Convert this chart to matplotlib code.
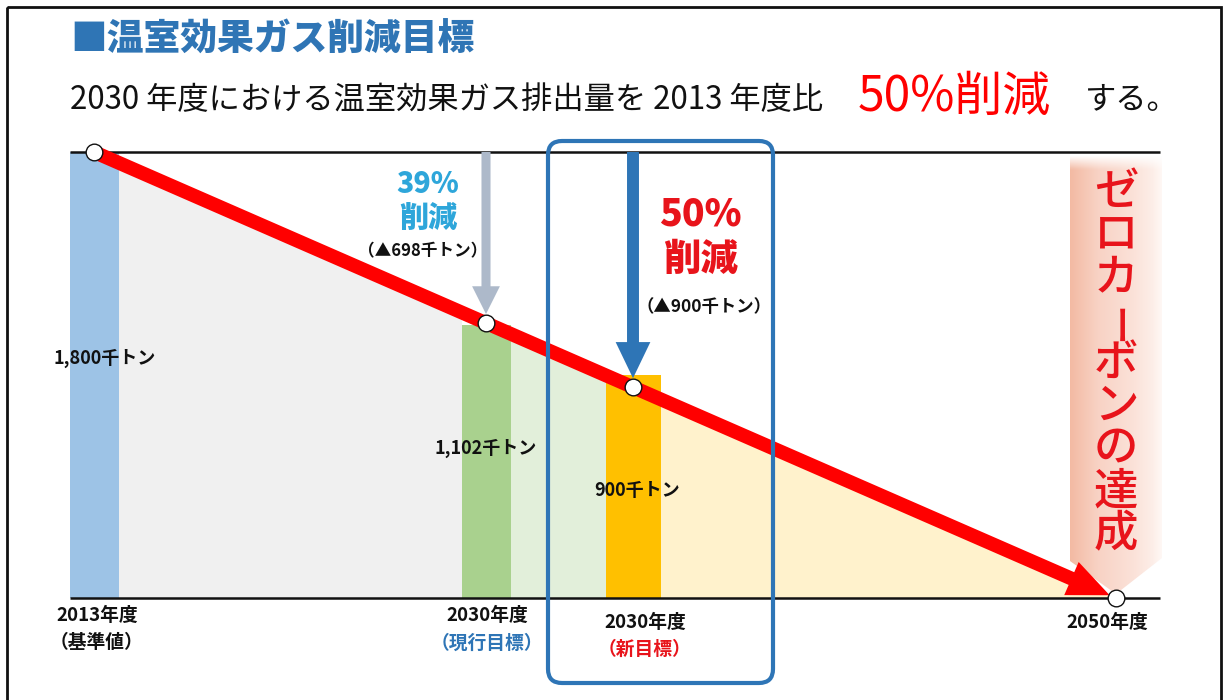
import numpy as np
import matplotlib
matplotlib.use("Agg")
import matplotlib.pyplot as plt
from matplotlib.transforms import Affine2D
from matplotlib.patches import Rectangle, FancyBboxPatch, Polygon, FancyArrowPatch, ArrowStyle

plt.rcParams['font.family'] = ['Noto Sans CJK JP', 'DejaVu Sans']

# ---------------- data ----------------
year_labels = ["2013年度", "2030年度", "2030年度", "2050年度"]
year_notes = ["（基準値）", "（現行目標）", "（新目標）", ""]
emissions = [1800, 1102, 900]          # 千トン
reduction_amounts = [698, 900]          # 千トン
reduction_pcts = [39, 50]               # %
title = "■温室効果ガス削減目標"
subtitle_a = "2030 年度における温室効果ガス排出量を 2013 年度比"
subtitle_b = "50%削減"
subtitle_c = "する。"
banner_text = "ゼロカーボンの達成"

# ---------------- layout ----------------
W, H = 1226, 700
x_pos = [94, 486, 633, 1116]
bar_widths = [49, 49, 55]
bar_colors = ["#9DC3E6", "#A9D18E", "#FFC000"]
fill_colors = ["#F0F0F0", "#E2EFDA", "#FFF2CC"]
Y_TOP_PX, Y_BOT_PX = 152, 598

fig = plt.figure(figsize=(W / 100, H / 100), dpi=100)
fig.patch.set_facecolor("white")
ax = fig.add_axes([0, (H - Y_BOT_PX) / H, 1, (Y_BOT_PX - Y_TOP_PX) / H])
ax.set_axis_off()
ax.patch.set_alpha(0)
pix = Affine2D().scale(1 / W, -1 / H).translate(0, 1) + fig.transFigure

ymax = emissions[0]
line_x = [x_pos[0], x_pos[-1]]
line_y = [emissions[0], 0]


def T(x, y, s, **kw):
    kw.setdefault("ha", "center")
    kw.setdefault("va", "center")
    return ax.text(x, y, s, transform=pix, clip_on=False, **kw)


# frame
ax.add_patch(Rectangle((7, 7), 1214, 800, transform=pix, fill=False, ec="#111111",
                       lw=2.0, clip_on=False, zorder=0))

# under-line fills between bars
edges_left = [x + w / 2 for x, w in zip(x_pos[:3], bar_widths)]
edges_right = [x - w / 2 for x, w in zip(x_pos[1:3], bar_widths[1:])] + [x_pos[-1]]
for xl, xr, c in zip(edges_left, edges_right, fill_colors):
    xs = np.array([xl, xr])
    ax.fill_between(xs, 0, np.interp(xs, line_x, line_y), color=c, lw=0, zorder=1)

# bars
ax.bar(x_pos[:3], emissions, width=bar_widths, color=bar_colors, zorder=2, lw=0)

# top / bottom lines
ax.plot([70, 1160], [ymax, ymax], color="#111111", lw=1.8, zorder=2.5, clip_on=False,
        solid_capstyle="butt")
ax.plot([70, 1160], [0, 0], color="#111111", lw=1.8, zorder=2.5, clip_on=False,
        solid_capstyle="butt")

# banner with gradient
bx0, bx1, by0, by1 = 1070, 1162, 155, 594
banner_poly = [(bx0, by0), (bx1, by0), (bx1, 558), (1116, by1), (bx0, 561)]
stops = np.array([0, 0.3, 0.7, 0.9, 1.0])
cols = np.array([[243, 186, 163], [248, 210, 196], [251, 226, 217], [253, 238, 232], [255, 248, 245]]) / 255
nx, ny = 200, 300
t = np.linspace(0, 1, nx)
rgb = np.stack([np.interp(t, stops, cols[:, k]) for k in range(3)], axis=-1)
yy = np.linspace(by0, by1, ny)
alpha = np.clip((yy - by0) / 14.0, 0, 1)
img = np.zeros((ny, nx, 4))
img[:, :, :3] = rgb[None, :, :]
img[:, :, 3] = alpha[:, None]
im = ax.imshow(img, extent=(bx0, bx1, by1, by0), transform=pix, aspect="auto",
               interpolation="bilinear", zorder=3, origin="upper")
clip = Polygon(banner_poly, closed=True, transform=pix)
im.set_clip_path(clip)
for i, ch in enumerate(banner_text):
    if ch == "ー":
        T(1124, 192 + i * 42.9, ch, fontsize=29, color="#E8141B", rotation=90,
          weight="medium", zorder=3.5)
    else:
        T(1116, 192 + i * 42.9, ch, fontsize=32, color="#E8141B", weight="medium", zorder=3.5)

# red arrow
ax.add_patch(FancyArrowPatch((x_pos[0], emissions[0]), (x_pos[-1], 0),
                             arrowstyle=ArrowStyle.Simple(head_length=30, head_width=26, tail_width=10),
                             mutation_scale=1, color="#FF0000", lw=0, shrinkA=0, shrinkB=5,
                             zorder=4, clip_on=False))

marker_y = np.interp(x_pos, line_x, line_y)

# reduction arrows
for xp, my, c, tw, hw, hl in [(x_pos[1], marker_y[1], "#ADB9CA", 6.5, 20, 20),
                              (x_pos[2], marker_y[2], "#2E75B6", 8.6, 25, 26)]:
    ax.add_patch(FancyArrowPatch((xp, ymax), (xp, my),
                                 arrowstyle=ArrowStyle.Simple(head_length=hl, head_width=hw, tail_width=tw),
                                 mutation_scale=1, color=c, lw=0, shrinkA=0, shrinkB=6.5,
                                 zorder=4.5, clip_on=False))

# blue box
ax.add_patch(FancyBboxPatch((548, 141), 225, 542, boxstyle="round,pad=0,rounding_size=14",
                            transform=pix, fc="none", ec="#2E75B6", lw=3.0, clip_on=False, zorder=5))

# markers
ax.plot(x_pos, marker_y, "o", ms=12, mfc="white", mec="#111111", mew=1.0, zorder=6, clip_on=False)

# titles
T(70, 40, title, ha="left", fontsize=26.5, weight="heavy", color="#2F75B5")
T(70, 100, subtitle_a, ha="left", fontsize=22.5, color="#111111")
T(858, 97, subtitle_b, ha="left", fontsize=34.5, color="#FF0000")
T(1085, 100, subtitle_c, ha="left", fontsize=22.5, color="#111111")

# reduction texts
T(428, 184, f"{reduction_pcts[0]}%", fontsize=20.5, weight="heavy", color="#2EA6DA")
T(428, 218, "削減", fontsize=21, weight="heavy", color="#2EA6DA")
T(423, 251, f"（▲{reduction_amounts[0]}千トン）", fontsize=12, weight="bold", color="#111111")
T(700, 214, f"{reduction_pcts[1]}%", fontsize=27, weight="heavy", color="#E8141B")
T(701, 260, "削減", fontsize=27, weight="heavy", color="#E8141B")
T(704, 307, f"（▲{reduction_amounts[1]}千トン）", fontsize=12.5, weight="bold", color="#111111")

# value labels
for (lx, ly), v in zip([(105, 358), (486, 448), (637, 490)], emissions):
    T(lx, ly, f"{v:,}千トン", fontsize=13, weight="bold", color="#111111", zorder=7)

# year labels
label_pos = [(97, 615, 643), (487, 615, 643), (645, 622, 649), (1107, 622, None)]
note_colors = ["#111111", "#2E75B6", "#E8141B", "#111111"]
for (lx, y1, y2), yl, nt, nc in zip(label_pos, year_labels, year_notes, note_colors):
    T(lx, y1, yl, fontsize=13.5, weight="bold", color="#111111")
    if nt:
        T(lx, y2, nt, fontsize=13.5, weight="bold", color=nc)

ax.set_xlim(0, W)
ax.set_ylim(0, ymax)
fig.savefig("out.png", dpi=100, facecolor="white")
